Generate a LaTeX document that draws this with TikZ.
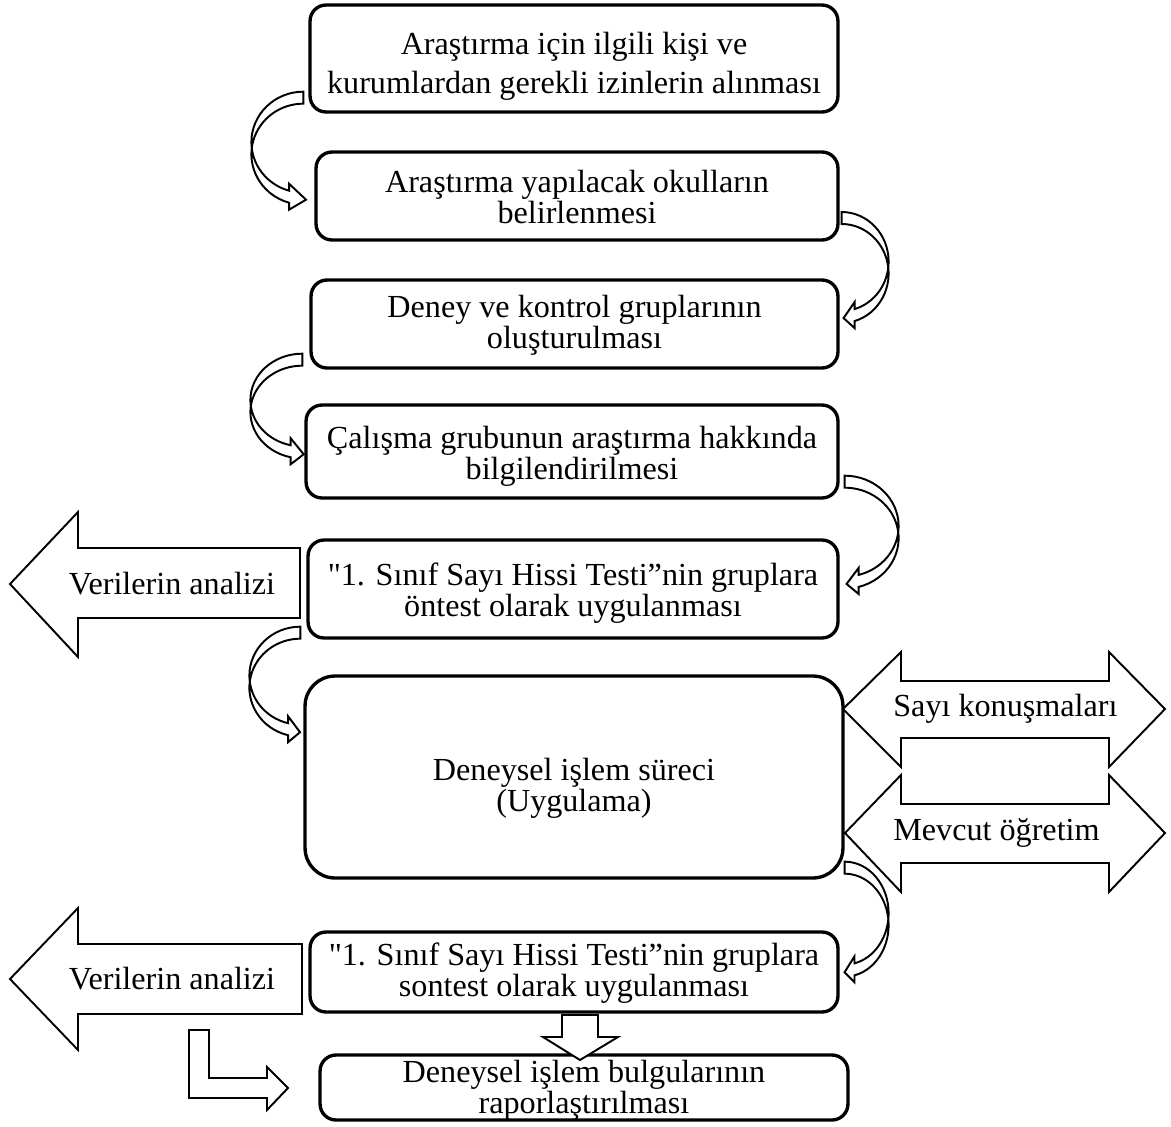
\documentclass[tikz,border=0pt]{standalone}
\usepackage{fontspec}
\setmainfont{Liberation Serif}[Ligatures=TeXOff]
\usetikzlibrary{calc}
\tikzset{
  stepbox/.style={draw, line width=1.9pt, rounded corners=0.32cm, inner sep=0pt},
  steptext/.style={align=center, inner sep=0pt, font=\fontsize{18.3}{17.6}\selectfont},
  blockarrow/.style={draw, line width=1.1pt, fill=white, line join=miter},
  bendarrow/.style={draw, line width=1.1pt, fill=white},
  arrowtext/.style={font=\fontsize{18.3}{17.6}\selectfont, inner sep=0pt}
}
% curved arrow: start point, x radius, y radius, end angle, head length
\newcommand{\curvearr}[5]{%
  \draw[bendarrow] (#1) arc[start angle=-90, end angle=#4, x radius=#2, y radius=#3]
    -- ++(0,-7) -- ++(#5,16) -- ++({-1*(#5)},10) -- ++(0,-7)
    arc[start angle=#4, end angle=-90, x radius=#2, y radius=#3] -- cycle;}

\begin{document}
\begin{tikzpicture}[x=0.02cm, y=-0.02cm]
  \useasboundingbox (0,0) rectangle (1171,1127);

  %%%%% boxes %%%%%
  \node[stepbox, minimum width=10.56cm, minimum height=2.14cm] (b1) at (574,58.5) {};
  \node[stepbox, minimum width=10.44cm, minimum height=1.76cm] (b2) at (577,196) {};
  \node[stepbox, minimum width=10.54cm, minimum height=1.76cm] (b3) at (574.5,324) {};
  \node[stepbox, minimum width=10.64cm, minimum height=1.86cm] (b4) at (572,451.5) {};
  \node[stepbox, minimum width=10.60cm, minimum height=1.96cm] (b5) at (573,589) {};
  \node[stepbox, rounded corners=0.6cm, minimum width=10.76cm, minimum height=4.04cm] (b6) at (574,777) {};
  \node[stepbox, minimum width=10.56cm, minimum height=1.60cm] (b7) at (574,972) {};
  \node[stepbox, minimum width=10.56cm, minimum height=1.30cm] (b8) at (584,1087.5) {};

  \node[steptext, font=\fontsize{18.3}{22}\selectfont] (t1) at ($(b1)+(0,8)$)
    {Araştırma için ilgili kişi ve\\kurumlardan gerekli izinlerin alınması};
  \node[steptext] (t2) at ($(b2)+(0,1)$) {Araştırma yapılacak okulların\\belirlenmesi};
  \node[steptext] (t3) at ($(b3)+(0,1)$) {Deney ve kontrol gruplarının\\oluşturulması};
  \node[steptext] (t4) at ($(b4)+(0,5)$) {Çalışma grubunun araştırma hakkında\\bilgilendirilmesi};
  \node[steptext] (t5) at ($(b5)+(0,4)$) {"1. Sınıf Sayı Hissi Testi”nin gruplara\\öntest olarak uygulanması};
  \node[steptext] (t6) at ($(b6)+(0,11)$) {Deneysel işlem süreci\\(Uygulama)};
  \node[steptext] (t7) at ($(b7)+(0,1)$) {"1. Sınıf Sayı Hissi Testi”nin gruplara\\sontest olarak uygulanması};
  \node[steptext] (t8) at ($(b8)+(0,3)$) {Deneysel işlem bulgularının\\raporlaştırılması};

  %%%%% curved arrows %%%%%
  \curvearr{$(b1.south west)+(-5,-22)$}{52}{50.5}{-254}{17}
  \curvearr{$(b2.east)+(2,16)$}{47}{49.5}{74}{-11}
  \curvearr{$(b3.south west)+(-7,-16)$}{52}{46.4}{-257}{13}
  \curvearr{$(b4.south east)+(5,-24)$}{54}{50.5}{75}{-12}
  \curvearr{$(b5.south west)+(-6,-13)$}{51}{49}{-256}{12}
  \curvearr{$(b6.south east)+(0,-18)$}{44}{51.5}{77}{-10}

  %%%%% block arrows %%%%%
  \draw[blockarrow] (300,548) -- (78,548) -- (78,512) -- (10,584) -- (78,657) -- (78,618) -- (300,618) -- cycle;
  \node[arrowtext] (an1) at (172,584) {Verilerin analizi};

  \draw[blockarrow] (302,944) -- (78,944) -- (78,908) -- (10,979) -- (78,1050) -- (78,1014) -- (302,1014) -- cycle;
  \node[arrowtext] (an2) at (172,979) {Verilerin analizi};

  \draw[blockarrow] (901,681) -- (1109,681) -- (1109,652) -- (1165,709) -- (1109,767) -- (1109,738)
    -- (901,738) -- (901,767) -- (843,709) -- (901,652) -- cycle;
  \node[arrowtext, anchor=west] (sk) at (893,709) {Sayı konuşmaları};

  \draw[blockarrow] (901,804) -- (1109,804) -- (1109,775) -- (1165,833) -- (1109,892) -- (1109,863)
    -- (901,863) -- (901,892) -- (845,833) -- (901,775) -- cycle;
  \node[arrowtext, anchor=west] (mo) at (893,833) {Mevcut öğretim};

  \draw[blockarrow] (562,1015) -- (598,1015) -- (598,1037) -- (618,1037) -- (580,1060) -- (543,1037) -- (562,1037) -- cycle;

  \draw[blockarrow] (189,1030) -- (209,1030) -- (209,1078) -- (267,1078) -- (267,1067) -- (288,1088)
    -- (267,1110) -- (267,1098) -- (189,1098) -- cycle;
\end{tikzpicture}
\end{document}
